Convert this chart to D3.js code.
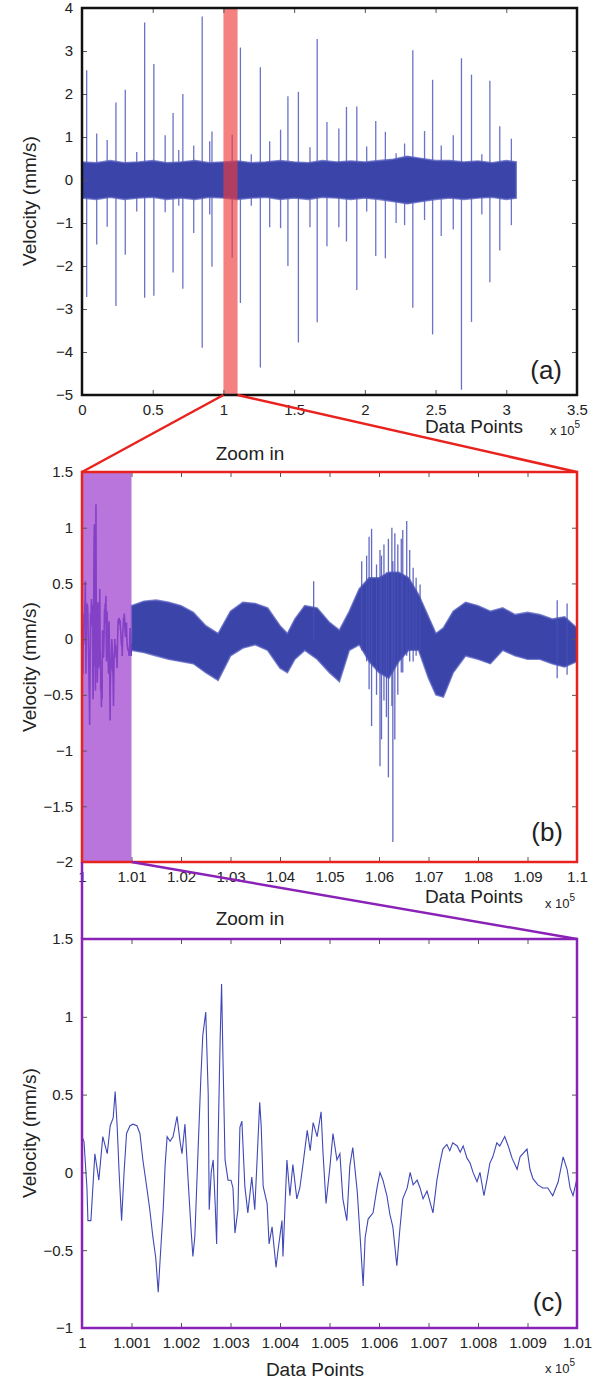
<!DOCTYPE html>
<html>
<head>
<meta charset="utf-8">
<script src="https://cdn.jsdelivr.net/npm/d3@7"></script>
<style>
  body { margin: 0; background: #fff; }
  text { font-family: "Liberation Sans", Arial, sans-serif; fill: #222; }
</style>
</head>
<body>
<div id="chart"></div>
<script>
// ---- panel (a): whole record, x in units of 1e5 data points
const aTicksX = [0, 0.5, 1, 1.5, 2, 2.5, 3, 3.5];
const aTicksY = [-5, -4, -3, -2, -1, 0, 1, 2, 3, 4];
const aEnvX = [0, 0.1, 0.2, 0.3, 0.4, 0.5, 0.6, 0.7, 0.8, 0.9, 1.0, 1.1, 1.2, 1.3, 1.4, 1.5,
  1.6, 1.7, 1.8, 1.9, 2.0, 2.1, 2.2, 2.3, 2.4, 2.5, 2.6, 2.7, 2.8, 2.9, 3.0, 3.07];
const aUpper = [0.42, 0.4, 0.45, 0.4, 0.42, 0.45, 0.4, 0.42, 0.45, 0.4, 0.42, 0.44, 0.4, 0.42, 0.45, 0.42,
  0.4, 0.45, 0.42, 0.44, 0.42, 0.45, 0.48, 0.55, 0.5, 0.45, 0.45, 0.42, 0.44, 0.4, 0.45, 0.42];
const aLower = [-0.42, -0.45, -0.4, -0.45, -0.42, -0.4, -0.45, -0.42, -0.45, -0.4, -0.42, -0.45, -0.42, -0.4, -0.45, -0.42,
  -0.45, -0.4, -0.42, -0.45, -0.42, -0.45, -0.5, -0.55, -0.5, -0.45, -0.42, -0.45, -0.42, -0.4, -0.45, -0.42];
const aSpikeX = [0.033, 0.104, 0.178, 0.240, 0.306, 0.387, 0.443, 0.508, 0.588, 0.644, 0.684, 0.713, 0.790,
  0.850, 0.903, 0.919, 1.062, 1.120, 1.197, 1.261, 1.327, 1.404, 1.456, 1.530, 1.612, 1.663, 1.732, 1.816,
  1.870, 1.943, 2.013, 2.077, 2.145, 2.221, 2.281, 2.339, 2.422, 2.479, 2.540, 2.625, 2.683, 2.754, 2.827,
  2.884, 2.954, 3.036];
const aSpikeUp = [2.55, 1.08, 0.93, 1.8, 2.1, 0.65, 3.66, 2.7, 1.04, 1.56, 0.7, 2.0, 0.8,
  3.8, 0.9, 1.13, 1.05, 3.08, 0.6, 2.62, 0.9, 1.17, 1.95, 2.05, 0.76, 3.28, 1.35, 1.2,
  1.7, 1.71, 0.78, 1.37, 1.12, 0.62, 0.85, 3.02, 1.14, 2.33, 0.8, 1.04, 2.83, 2.45, 0.6,
  2.31, 1.25, 0.96];
const aSpikeDown = [-2.72, -1.5, -1.09, -2.93, -1.74, -0.73, -2.74, -2.69, -0.75, -2.15, -0.6, -2.53, -1.23,
  -3.9, -0.8, -2.02, -1.81, -2.86, -0.6, -4.36, -1.1, -1.12, -2.0, -3.78, -1.1, -3.31, -1.54, -1.1,
  -1.43, -2.56, -0.73, -1.77, -1.82, -1.0, -1.05, -2.97, -0.93, -3.59, -1.3, -1.15, -4.88, -3.3, -0.8,
  -2.38, -1.64, -1.05];

// ---- panel (b): 1.0 to 1.1 (x 1e5)
const bTicksX = [1, 1.01, 1.02, 1.03, 1.04, 1.05, 1.06, 1.07, 1.08, 1.09, 1.1];
const bTicksY = [-2, -1.5, -1, -0.5, 0, 0.5, 1, 1.5];
const bEnvX = [1.010, 1.0125, 1.015, 1.0175, 1.02, 1.0225, 1.025, 1.0275, 1.03, 1.0325, 1.035, 1.0375, 1.04,
  1.0415, 1.043, 1.045, 1.0475, 1.05, 1.052, 1.054, 1.056, 1.058, 1.06, 1.062, 1.064, 1.066, 1.068, 1.07,
  1.0715, 1.073, 1.075, 1.0775, 1.08, 1.0825, 1.085, 1.0875, 1.09, 1.0925, 1.095, 1.0975, 1.1];
const bUpper = [0.30, 0.34, 0.35, 0.33, 0.30, 0.24, 0.12, 0.05, 0.25, 0.33, 0.32, 0.28, 0.12,
  0.05, 0.18, 0.30, 0.28, 0.15, 0.08, 0.25, 0.45, 0.55, 0.55, 0.6, 0.6, 0.55, 0.4, 0.20,
  0.05, 0.10, 0.25, 0.33, 0.30, 0.25, 0.28, 0.22, 0.24, 0.22, 0.18, 0.20, 0.10];
const bLower = [-0.10, -0.12, -0.15, -0.18, -0.20, -0.22, -0.30, -0.37, -0.15, -0.08, -0.05, -0.10, -0.26,
  -0.30, -0.18, -0.10, -0.18, -0.30, -0.38, -0.10, -0.05, -0.20, -0.30, -0.35, -0.20, -0.10, -0.10, -0.35,
  -0.50, -0.52, -0.30, -0.15, -0.18, -0.22, -0.10, -0.15, -0.18, -0.18, -0.22, -0.25, -0.20];
const bSpikeX = [1.0468, 1.0565, 1.0575, 1.058, 1.0585, 1.0595, 1.0602, 1.0605, 1.061, 1.0615, 1.0619,
  1.0626, 1.0628, 1.0632, 1.0638, 1.0645, 1.0648, 1.0656, 1.0662, 1.0669, 1.0675, 1.0683, 1.096, 1.098];
const bSpikeUp = [0.52, 0.7, 0.75, 0.92, 0.99, 0.67, 0.8, 0.75, 0.85, 0.6, 0.9,
  1.0, 0.7, 0.95, 0.85, 0.9, 0.98, 1.06, 0.8, 0.64, 0.55, 0.49, 0.35, 0.32];
const bSpikeDown = [0.0, -0.1, -0.2, -0.45, -0.78, -0.5, -1.14, -0.9, -0.55, -0.7, -1.24,
  -0.6, -1.82, -0.9, -0.5, -0.3, -0.3, -0.15, -0.2, -0.2, -0.15, -0.1, -0.35, -0.32];

// ---- panel (c): points 100000..101000 (offset), velocity
const cTicksX = [1, 1.001, 1.002, 1.003, 1.004, 1.005, 1.006, 1.007, 1.008, 1.009, 1.01];
const cTicksY = [-1, -0.5, 0, 0.5, 1, 1.5];
const cOffset = [0, 4, 10, 12, 18, 26, 34, 42, 51, 57, 63, 67, 71, 75, 80, 85, 90, 97, 103, 111, 117, 123,
  131, 137, 143, 149, 154, 158, 164, 168, 172, 178, 184, 192, 198, 202, 208, 214, 220, 224, 228, 234, 240,
  244, 250, 255, 257, 261, 265, 269, 272, 275, 279, 282, 285, 289, 295, 301, 305, 309, 315, 319, 323, 329,
  335, 343, 349, 354, 359, 362, 366, 374, 378, 384, 392, 396, 404, 406, 414, 420, 426, 434, 440, 446, 455,
  461, 467, 475, 483, 487, 493, 501, 507, 515, 521, 527, 535, 541, 547, 556, 562, 568, 572, 578, 588, 596,
  602, 608, 616, 622, 628, 636, 642, 648, 657, 663, 669, 677, 683, 689, 697, 703, 709, 717, 723, 729, 737,
  743, 749, 758, 764, 770, 778, 784, 790, 798, 804, 812, 818, 824, 830, 838, 844, 854, 861, 869, 879, 885,
  899, 905, 911, 921, 931, 941, 951, 962, 972, 980, 986, 992, 1000];
const cVel = [0.23, 0.2, -0.1, -0.31, -0.31, 0.12, -0.05, 0.23, 0.12, 0.3, 0.35, 0.52, 0.3, 0.0, -0.31, 0.0,
  0.25, 0.3, 0.31, 0.3, 0.25, 0.08, -0.1, -0.24, -0.41, -0.55, -0.77, -0.55, -0.24, 0.05, 0.23, 0.2, 0.23,
  0.36, 0.2, 0.12, 0.31, -0.03, -0.35, -0.54, -0.41, 0.1, 0.6, 0.88, 1.03, 0.5, -0.24, 0.0, 0.08, -0.2,
  -0.46, 0.2, 0.85, 1.21, 0.7, 0.08, -0.05, -0.05, -0.1, -0.39, -0.24, 0.29, 0.33, -0.09, -0.26, -0.03,
  -0.24, 0.1, 0.45, 0.3, -0.09, -0.2, -0.46, -0.35, -0.61, -0.5, -0.31, -0.54, 0.08, -0.15, 0.05, -0.17,
  -0.1, 0.04, 0.27, 0.14, 0.32, 0.23, 0.39, 0.12, -0.2, 0.04, 0.25, 0.08, 0.12, -0.17, -0.31, 0.04, 0.16,
  -0.12, -0.42, -0.73, -0.42, -0.3, -0.26, -0.1, 0.0, -0.05, -0.15, -0.27, -0.35, -0.6, -0.37, -0.17,
  -0.1, 0.0, -0.08, -0.05, -0.1, -0.17, -0.12, -0.19, -0.26, -0.05, 0.06, 0.15, 0.18, 0.14, 0.19, 0.17,
  0.13, 0.17, 0.09, 0.06, 0.0, -0.06, 0.0, -0.15, -0.05, 0.06, 0.1, 0.19, 0.17, 0.23, 0.17, 0.09, 0.02,
  0.1, 0.15, 0.02, -0.04, -0.08, -0.1, -0.1, -0.15, -0.06, 0.1, 0.02, -0.1, -0.15, -0.04];

const width = 597;
const height = 1381;
const left = 82, right = 577;
const blue = '#3b44a8';
const fringe = '#5a63c0';

const svg = d3.select('#chart')
  .append('svg')
  .attr('width', width)
  .attr('height', height);

function makePanel(top, bottom, xDom, yDom) {
  return {
    top, bottom,
    x: d3.scaleLinear().domain(xDom).range([left, right]),
    y: d3.scaleLinear().domain(yDom).range([bottom, top])
  };
}

const pa = makePanel(8, 395, [0, 3.5], [-5, 4]);
const pb = makePanel(472, 862, [1, 1.1], [-2, 1.5]);
const pc = makePanel(939, 1328, [1, 1.01], [-1, 1.5]);

const aEnv = aEnvX.map((x, i) => ({ x, hi: aUpper[i], lo: aLower[i] }));
const bEnv = bEnvX.map((x, i) => ({ x, hi: bUpper[i], lo: bLower[i] }));
const cData = cOffset.map((o, i) => ({ x: 1 + o / 1e5, v: cVel[i] }));

function spikes(p, xs, ups, downs, col, op) {
  svg.append('g')
    .selectAll('line')
    .data(xs.map((x, i) => ({ x, up: ups[i], down: downs[i] })))
    .join('line')
    .attr('x1', d => p.x(d.x)).attr('x2', d => p.x(d.x))
    .attr('y1', d => p.y(d.down)).attr('y2', d => p.y(d.up))
    .attr('stroke', col)
    .attr('stroke-opacity', op)
    .attr('stroke-width', 1.3);
}

function band(p, env) {
  svg.append('path')
    .datum(env)
    .attr('fill', blue)
    .attr('stroke', fringe)
    .attr('stroke-width', 1.6)
    .attr('stroke-opacity', 0.8)
    .attr('d', d3.area().x(d => p.x(d.x)).y0(d => p.y(d.lo)).y1(d => p.y(d.hi)));
}

// panel a data
spikes(pa, aSpikeX, aSpikeUp, aSpikeDown, '#4650b8', 0.8);
band(pa, aEnv);
svg.append('rect')
  .attr('x', pa.x(1.0)).attr('width', pa.x(1.1) - pa.x(1.0))
  .attr('y', pa.top).attr('height', pa.bottom - pa.top)
  .attr('fill', '#f03c3c').attr('fill-opacity', 0.65);

// panel b data
band(pb, bEnv);
spikes(pb, bSpikeX, bSpikeUp, bSpikeDown, '#4650b8', 0.85);
svg.append('path')
  .datum(cData)
  .attr('fill', 'none')
  .attr('stroke', blue)
  .attr('stroke-width', 1.6)
  .attr('d', d3.line().x(d => pb.x(d.x)).y(d => pb.y(d.v)));
svg.append('rect')
  .attr('x', pb.x(1.0)).attr('width', pb.x(1.01) - pb.x(1.0))
  .attr('y', pb.top).attr('height', pb.bottom - pb.top)
  .attr('fill', '#a040d0').attr('fill-opacity', 0.72);

// panel c data
svg.append('path')
  .datum(cData)
  .attr('fill', 'none')
  .attr('stroke', '#3f48b6')
  .attr('stroke-width', 1.1)
  .attr('d', d3.line().x(d => pc.x(d.x)).y(d => pc.y(d.v)));

// axes: inward ticks on all four sides, MATLAB style
function axes(p, xTicks, yTicks, frame) {
  const g = svg.append('g');
  const fmt = d3.format('');
  const style = s => {
    s.select('.domain').remove();
    s.selectAll('line').attr('stroke', '#555');
    s.selectAll('text').attr('font-size', 15).attr('font-family', '"Liberation Sans", Arial, sans-serif').attr('fill', '#222');
  };
  g.append('g').attr('transform', `translate(0,${p.bottom})`)
    .call(d3.axisBottom(p.x).tickValues(xTicks).tickSize(-5).tickPadding(9).tickFormat(fmt)).call(style);
  g.append('g').attr('transform', `translate(0,${p.top})`)
    .call(d3.axisTop(p.x).tickValues(xTicks).tickSize(-5).tickFormat('')).call(style);
  g.append('g').attr('transform', `translate(${left},0)`)
    .call(d3.axisLeft(p.y).tickValues(yTicks).tickSize(-5).tickPadding(9).tickFormat(fmt)).call(style);
  g.append('g').attr('transform', `translate(${right},0)`)
    .call(d3.axisRight(p.y).tickValues(yTicks).tickSize(-5).tickFormat('')).call(style);
  g.append('rect')
    .attr('x', left).attr('y', p.top)
    .attr('width', right - left).attr('height', p.bottom - p.top)
    .attr('fill', 'none').attr('stroke', frame).attr('stroke-width', 2.5);
}

axes(pa, aTicksX, aTicksY, '#111');
axes(pb, bTicksX, bTicksY, '#e8221e');
axes(pc, cTicksX, cTicksY, '#8a22b8');

// connectors
const red = '#e8221e', purple = '#8a22b8';
[[1.0, pb.x(1)], [1.1, pb.x(1.1)]].forEach(([xa, xb]) => {
  svg.append('line')
    .attr('x1', pa.x(xa)).attr('y1', pa.bottom).attr('x2', xb).attr('y2', pb.top)
    .attr('stroke', red).attr('stroke-width', 2.5);
});
[[1.0, pc.x(1)], [1.01, pc.x(1.01)]].forEach(([xb, xc]) => {
  svg.append('line')
    .attr('x1', pb.x(xb)).attr('y1', pb.bottom).attr('x2', xc).attr('y2', pc.top)
    .attr('stroke', purple).attr('stroke-width', 2.5);
});

// labels
function ylabel(cy) {
  svg.append('text')
    .attr('transform', `translate(29,${cy}) rotate(-90)`)
    .attr('text-anchor', 'middle').attr('dy', '0.35em')
    .attr('font-size', 19)
    .text('Velocity (mm/s)');
}
ylabel(201); ylabel(667); ylabel(1133);

function xlabel(cx, base) {
  svg.append('text').attr('x', cx).attr('y', base)
    .attr('text-anchor', 'middle').attr('font-size', 19).text('Data Points');
}
xlabel(474, 433); xlabel(474, 903); xlabel(315, 1376);

function expo(x0, base) {
  const t = svg.append('text').attr('x', x0).attr('y', base).attr('font-size', 13);
  t.append('tspan').text('x 10');
  t.append('tspan').attr('dy', -7).attr('font-size', 10).text('5');
}
expo(550, 435); expo(545, 908); expo(545, 1373);

function zoomIn(base) {
  svg.append('text').attr('x', 250).attr('y', base)
    .attr('text-anchor', 'middle').attr('font-size', 19).text('Zoom in');
}
zoomIn(460); zoomIn(925);

function tag(x0, base, s) {
  svg.append('text').attr('x', x0).attr('y', base)
    .attr('text-anchor', 'end').attr('font-size', 26).text(s);
}
tag(562, 379, '(a)'); tag(563, 841, '(b)'); tag(563, 1311, '(c)');
</script>
</body>
</html>
